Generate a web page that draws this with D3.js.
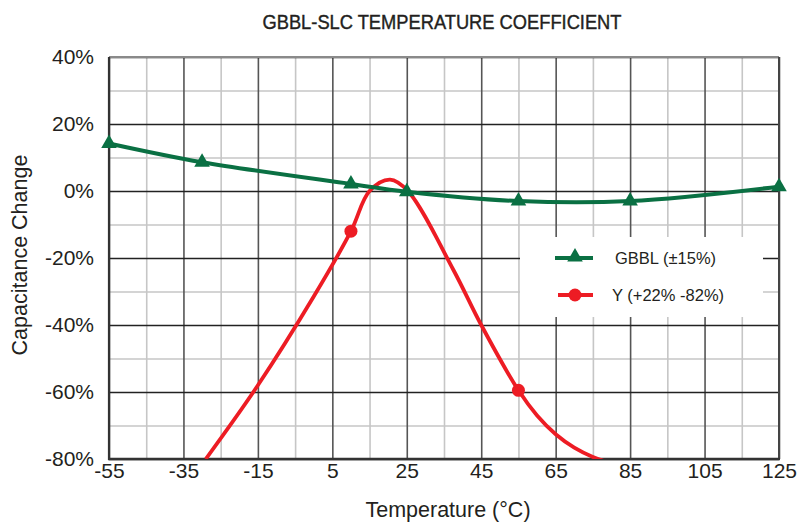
<!DOCTYPE html>
<html>
<head>
<meta charset="utf-8">
<script src="https://cdn.jsdelivr.net/npm/d3@7"></script>
<style>
  body { margin: 0; background: #fff; }
  text { font-family: "Liberation Sans", Arial, Helvetica, sans-serif; fill: #231f20; }
</style>
</head>
<body>
<svg id="chart" width="800" height="523"></svg>
<script>
// axis ticks
const tempTicks = [-55, -35, -15, 5, 25, 45, 65, 85, 105, 125];
const tempMinor = [-45, -25, -5, 15, 35, 55, 75, 95, 115];
const pctTicks = [-80, -60, -40, -20, 0, 20, 40];
const pctMinor = [-70, -50, -30, -10, 10, 30];

// GBBL series (measured points, all marked)
const gbblTemp = [-55, -30, 10, 25, 55, 85, 125];
const gbblVal = [14.2, 8.6, 2.1, -0.2, -3.0, -3.0, 1.3];

// Y series curve and its marked points
const yTemp = [-29, -15, 0, 10, 15, 20.5, 25.3, 37.5, 45, 55, 60, 65, 70, 75, 78];
const yVal = [-80, -58, -31.5, -12, 0, 3.4, 0, -23.5, -40, -59.5, -67, -72.6, -76.6, -79.4, -80.6];
const yMarkTemp = [10, 55];
const yMarkVal = [-12, -59.5];

const seriesNames = ['GBBL (\u00b115%)', 'Y (+22% -82%)'];
const green = '#0a7043';
const red = '#ed1c24';

const svg = d3.select('#chart');
const plotL = 109, plotR = 779, plotT = 57, plotB = 459;

const x = d3.scaleLinear().domain([-55, 125]).range([plotL, plotR]);
const y = d3.scaleLinear().domain([-80, 40]).range([plotB, plotT]);

// title
svg.append('text')
    .attr('x', 442)
    .attr('y', 29)
    .attr('text-anchor', 'middle')
    .attr('textLength', 359)
    .attr('lengthAdjust', 'spacingAndGlyphs')
    .style('font-size', '20px')
    .style('stroke', '#231f20')
    .style('stroke-width', '0.4px')
    .text('GBBL-SLC TEMPERATURE COEFFICIENT');

// grid
function grid(axis, values) {
  return axis.tickValues(values).tickFormat('').tickSizeOuter(0);
}
const gMinorX = svg.append('g')
    .attr('transform', `translate(0,${plotB})`)
    .call(grid(d3.axisBottom(x).tickSize(-(plotB - plotT)), tempMinor));
const gMinorY = svg.append('g')
    .attr('transform', `translate(${plotL},0)`)
    .call(grid(d3.axisLeft(y).tickSize(-(plotR - plotL)), pctMinor));
[gMinorX, gMinorY].forEach(g => {
  g.select('.domain').remove();
  g.selectAll('line').attr('stroke', '#c6c6c6').attr('stroke-width', 1.6);
});

const gMajorX = svg.append('g')
    .attr('transform', `translate(0,${plotB})`)
    .call(grid(d3.axisBottom(x).tickSize(-(plotB - plotT)), tempTicks));
gMajorX.select('.domain').remove();
gMajorX.selectAll('line').attr('stroke', '#555').attr('stroke-width', 1.6);

const gMajorY = svg.append('g')
    .attr('transform', `translate(${plotL},0)`)
    .call(grid(d3.axisLeft(y).tickSize(-(plotR - plotL)), pctTicks));
gMajorY.select('.domain').remove();
gMajorY.selectAll('line').attr('stroke', '#222').attr('stroke-width', 1.3);

// frame
svg.append('line').attr('x1', plotL).attr('x2', plotR).attr('y1', plotT).attr('y2', plotT)
    .attr('stroke', '#8a8a8a').attr('stroke-width', 2);
svg.append('line').attr('x1', plotR).attr('x2', plotR).attr('y1', plotT).attr('y2', plotB)
    .attr('stroke', '#444').attr('stroke-width', 2);
svg.append('line').attr('x1', plotL).attr('x2', plotL).attr('y1', plotT).attr('y2', plotB + 1)
    .attr('stroke', '#333').attr('stroke-width', 2.2);
svg.append('line').attr('x1', plotL - 1).attr('x2', plotR + 1).attr('y1', plotB).attr('y2', plotB)
    .attr('stroke', '#333').attr('stroke-width', 2.6);

// tick labels
const xAxis = svg.append('g')
    .attr('transform', `translate(0,${plotB})`)
    .call(d3.axisBottom(x).tickValues(tempTicks).tickSize(0).tickPadding(4).tickFormat(d => d));
xAxis.select('.domain').remove();
xAxis.attr('font-family', null).attr('font-size', null);
xAxis.selectAll('text').style('font-size', '21px');

const yAxis = svg.append('g')
    .attr('transform', `translate(${plotL},0)`)
    .call(d3.axisLeft(y).tickValues(pctTicks).tickSize(0).tickPadding(15).tickFormat(d => d + '%'));
yAxis.select('.domain').remove();
yAxis.attr('font-family', null).attr('font-size', null);
yAxis.selectAll('text').style('font-size', '21px');

// axis titles
svg.append('text')
    .attr('x', 448)
    .attr('y', 517)
    .attr('text-anchor', 'middle')
    .style('font-size', '21.5px')
    .text('Temperature (\u00b0C)');
svg.append('text')
    .attr('transform', 'translate(27,255) rotate(-90)')
    .attr('text-anchor', 'middle')
    .style('font-size', '21.5px')
    .text('Capacitance Change');

// legend box hides grid behind it
const legend = svg.append('g');
legend.append('rect')
    .attr('x', 520).attr('y', 237).attr('width', 243).attr('height', 80)
    .attr('fill', '#fff');

// series
const line = d3.line().x(d => x(d[0])).y(d => y(d[1])).curve(d3.curveCatmullRom.alpha(0.5));

svg.append('defs').append('clipPath').attr('id', 'plot')
    .append('rect').attr('x', plotL).attr('y', plotT - 10).attr('width', plotR - plotL + 10).attr('height', plotB - plotT + 10);

const yData = yTemp.map((t, i) => [t, yVal[i]]);
svg.append('path')
    .datum(yData)
    .attr('clip-path', 'url(#plot)')
    .attr('d', line)
    .attr('fill', 'none')
    .attr('stroke', red)
    .attr('stroke-width', 3.8);
svg.selectAll('.ymark')
    .data(yMarkTemp.map((t, i) => [t, yMarkVal[i]]))
    .join('circle')
    .attr('class', 'ymark')
    .attr('cx', d => x(d[0]))
    .attr('cy', d => y(d[1]))
    .attr('r', 6.5)
    .attr('fill', red);

const gbblData = gbblTemp.map((t, i) => [t, gbblVal[i]]);
svg.append('path')
    .datum(gbblData)
    .attr('d', line)
    .attr('fill', 'none')
    .attr('stroke', green)
    .attr('stroke-width', 4);
const tri = d3.symbol().type(d3.symbolTriangle).size(105);
svg.selectAll('.gmark')
    .data(gbblData)
    .join('path')
    .attr('class', 'gmark')
    .attr('transform', d => `translate(${x(d[0])},${y(d[1])})`)
    .attr('d', tri)
    .attr('fill', green);

// legend entries
legend.append('line').attr('x1', 555).attr('x2', 593).attr('y1', 258).attr('y2', 258)
    .attr('stroke', green).attr('stroke-width', 4);
legend.append('path').attr('transform', 'translate(575,257)').attr('d', tri).attr('fill', green);
legend.append('text').attr('x', 615).attr('y', 264).style('font-size', '16.5px').text(seriesNames[0]);

legend.append('line').attr('x1', 558).attr('x2', 593).attr('y1', 295).attr('y2', 295)
    .attr('stroke', red).attr('stroke-width', 4);
legend.append('circle').attr('cx', 575).attr('cy', 295).attr('r', 6.5).attr('fill', red);
legend.append('text').attr('x', 612).attr('y', 301).style('font-size', '16.5px').text(seriesNames[1]);
</script>
</body>
</html>
